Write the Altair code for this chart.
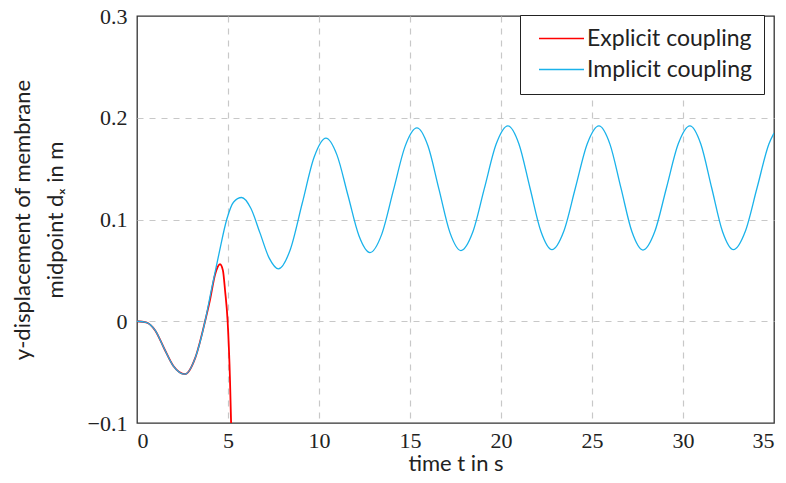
import altair as alt
import pandas as pd

# Implicit coupling (blue) readings
imp_t = [0, 0.5, 1.0, 1.5, 2.0, 2.64, 3.2, 3.74, 4.1, 4.5, 4.93, 5.3, 5.75, 6.255, 6.76, 7.265, 7.77,
         8.42, 9.075, 9.73, 10.38, 10.985, 11.59, 12.195, 12.8, 13.445, 14.09, 14.735, 15.38,
         15.985, 16.59, 17.195, 17.8, 18.445, 19.09, 19.735, 20.38, 20.985, 21.59, 22.195, 22.8,
         23.445, 24.09, 24.735, 25.38, 25.985, 26.59, 27.195, 27.8, 28.445, 29.09, 29.735, 30.38,
         30.978, 31.575, 32.17, 32.77, 33.42, 34.07, 34.72, 35.0]
imp_y = [0, -0.001, -0.009, -0.027, -0.044, -0.052, -0.036, 0.0, 0.032, 0.066, 0.1, 0.117, 0.1216,
         0.111, 0.0866, 0.062, 0.0515,
         0.0703, 0.1157, 0.1612, 0.180, 0.1635, 0.1238, 0.0840, 0.0675, 0.0854, 0.1288, 0.1721, 0.190,
         0.1724, 0.1298, 0.0871, 0.0695, 0.0874, 0.1308, 0.1741, 0.192, 0.1742, 0.1312, 0.0882, 0.0704,
         0.0882, 0.1312, 0.1742, 0.192, 0.1741, 0.131, 0.0879, 0.070, 0.0879, 0.131, 0.1741, 0.192,
         0.1742, 0.1312, 0.0882, 0.0704, 0.0882, 0.1312, 0.1742, 0.185]

# Explicit coupling (red) readings
exp_t = [0, 0.5, 1.0, 1.5, 2.0, 2.64, 3.2, 3.74, 4.0, 4.29, 4.56, 4.72, 4.84, 4.98, 5.11, 5.17]
exp_y = [0, -0.001, -0.009, -0.027, -0.044, -0.052, -0.036, 0.0, 0.02, 0.046, 0.056, 0.05, 0.03,
         0.0, -0.058, -0.1]

series_names = ["Explicit coupling", "Implicit coupling"]
series_colors = ["#ff0000", "#1ab2ea"]

x_ticks = [0, 5, 10, 15, 20, 25, 30, 35]
y_ticks = [-0.1, 0, 0.1, 0.2, 0.3]

df_exp = pd.DataFrame({"t": exp_t, "y": exp_y, "series": series_names[0]})
df_imp = pd.DataFrame({"t": imp_t, "y": imp_y, "series": series_names[1]})

color = alt.Color(
    "series:N",
    scale=alt.Scale(domain=series_names, range=series_colors),
    legend=alt.Legend(
        title=None,
        orient="none",
        legendX=383,
        legendY=-1,
        symbolType="M -0.6 0 L 5.4 0",
        symbolSize=225,
        symbolStrokeWidth=1.3,
        labelFont="Lato",
        labelFontSize=23,
        labelColor="#222222",
        labelLimit=0,
        labelOffset=32,
        rowPadding=7,
        padding=12,
        strokeColor="#222222",
        fillColor="white",
    ),
)

x = alt.X(
    "t:Q",
    scale=alt.Scale(domain=[0, 35], nice=False),
    axis=alt.Axis(
        values=x_ticks,
        title="time t in s",
        labelExpr="format(datum.value, 'd')",
        gridOpacity=alt.condition("datum.value == 0 || datum.value == 35", alt.value(0), alt.value(1)),
        titleBaseline="alphabetic",
        titleY=47,
    ),
)
y = alt.Y(
    "y:Q",
    scale=alt.Scale(domain=[-0.1, 0.3], nice=False),
    axis=alt.Axis(
        values=y_ticks,
        title=["y-displacement of membrane", "midpoint dₓ in m"],
        labelExpr="datum.value == 0 ? '0' : format(datum.value, '.1f')",
        gridOpacity=alt.condition("datum.value < -0.05 || datum.value > 0.25", alt.value(0), alt.value(1)),
    ),
)

red = alt.Chart(df_exp).mark_line(strokeWidth=1.8, interpolate="monotone", clip=True).encode(
    x=x, y=y, color=color
)
blue = alt.Chart(df_imp).mark_line(strokeWidth=1.3, interpolate="monotone", clip=True).encode(
    x=x, y=y, color=color
)

chart = (
    alt.layer(red, blue)
    .properties(
        width=637,
        height=407,
        autosize=alt.AutoSizeParams(type="none"),
        padding={"left": 129, "top": 8, "right": 4, "bottom": 52},
    )
    .configure_view(stroke="#333333", strokeWidth=1.3)
    .configure_axis(
        domain=False,
        ticks=False,
        grid=True,
        gridDash=[6, 6],
        gridColor="#c8c8c8",
        gridWidth=1.2,
        labelFont="Liberation Serif, DejaVu Serif, serif",
        labelFontSize=22,
        labelColor="#222222",
        titleFont="Lato",
        titleFontSize=22,
        titleFontWeight="normal",
        titleColor="#222222",
    )
    .configure_axisX(labelPadding=7)
    .configure_axisY(labelPadding=10, titlePadding=20, titleLineHeight=33)
)

chart.save("out.html", embed_options={"renderer": "svg", "actions": False})
